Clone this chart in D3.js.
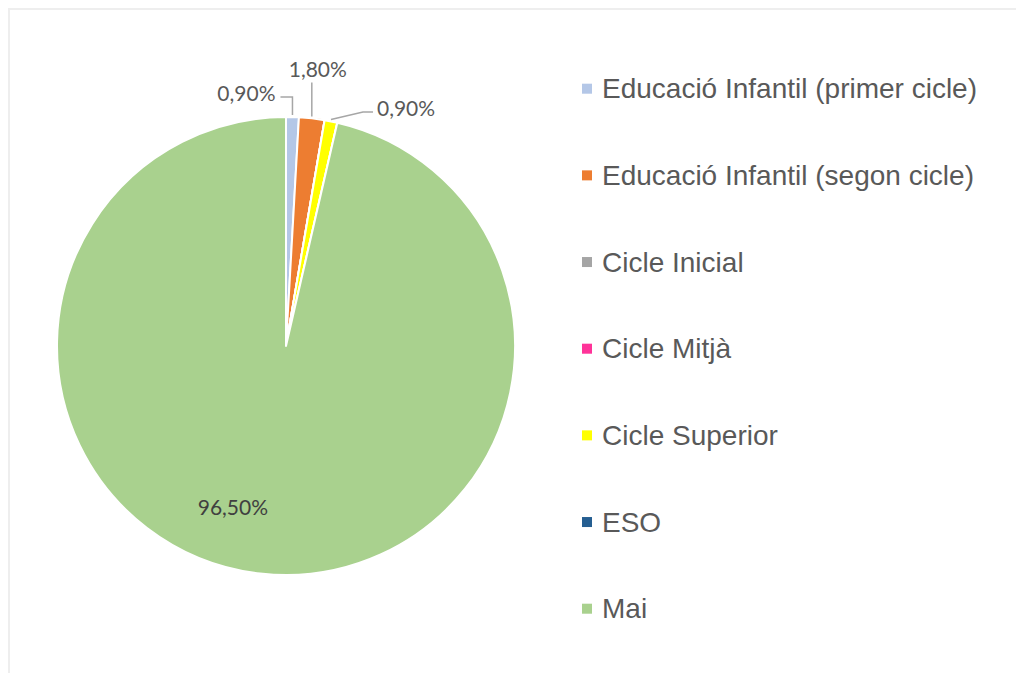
<!DOCTYPE html>
<html>
<head>
<meta charset="utf-8">
<script src="https://cdn.jsdelivr.net/npm/d3@7"></script>
<style>
  html, body { margin: 0; padding: 0; background: #fff; }
  svg { display: block; }
</style>
</head>
<body>
<div id="chart"></div>
<script>
// dades del gràfic
const categories = [
  "Educació Infantil (primer cicle)",
  "Educació Infantil (segon cicle)",
  "Cicle Inicial",
  "Cicle Mitjà",
  "Cicle Superior",
  "ESO",
  "Mai"
];
const values = [0.9, 1.8, 0, 0, 0.9, 0, 96.5];
const labelTexts = ["0,90%", "1,80%", "", "", "0,90%", "", "96,50%"];
const colors = ["#B4C7E7", "#ED7D31", "#A5A5A5", "#FF3399", "#FFFF00", "#255E91", "#A9D18E"];

(() => {
  const W = 1016, H = 673;
  const cx = 286, cy = 346, R = 229;
  const legendFont = "'Liberation Sans', Arimo, Arial, Helvetica, sans-serif";
  const labelFont = "Lato, 'Open Sans', sans-serif";

  const svg = d3.select("#chart").append("svg")
    .attr("width", W).attr("height", H);

  // vora del gràfic
  svg.append("rect")
    .attr("x", 9).attr("y", 9)
    .attr("width", W + 50).attr("height", H + 50)
    .attr("fill", "#fff")
    .attr("stroke", "#eeeeee")
    .attr("stroke-width", 2);

  const data = categories.map((c, i) => ({ cat: c, v: values[i], lbl: labelTexts[i], color: colors[i] }));

  const pie = d3.pie().sort(null).value(d => d.v);
  const arcs = pie(data);
  const arc = d3.arc().innerRadius(0).outerRadius(R);

  const g = svg.append("g").attr("transform", `translate(${cx},${cy})`);

  g.selectAll("path.slice")
    .data(arcs)
    .join("path")
    .attr("class", "slice")
    .attr("d", arc)
    .attr("fill", d => d.data.color)
    .attr("stroke", "#fff")
    .attr("stroke-width", 2)
    .attr("stroke-linejoin", "round");

  // posicions de les etiquetes (desplaçaments respecte al punt exterior del sector)
  const layout = {
    0: { elbow: [0, -20], end: [-12, -20], text: [-17, -25], anchor: "end" },
    1: { elbow: [0, -36], end: [0, -36], text: [6, -50], anchor: "middle" },
    4: { elbow: [32, -9.5], end: [42, -9.5], text: [46, -14], anchor: "start" }
  };

  const outer = d => {
    const a = (d.startAngle + d.endAngle) / 2;
    return [R * Math.sin(a), -R * Math.cos(a)];
  };

  arcs.forEach((d, i) => {
    if (!d.data.lbl) return;
    const L = layout[i];
    if (L) {
      const [ax, ay] = outer(d);
      const pts = [[ax, ay - 2], [ax + L.elbow[0], ay + L.elbow[1]], [ax + L.end[0], ay + L.end[1]]];
      g.append("polyline")
        .attr("points", pts.map(p => p.join(",")).join(" "))
        .attr("fill", "none")
        .attr("stroke", "#a6a6a6")
        .attr("stroke-width", 1.5);
      g.append("text")
        .attr("x", ax + L.text[0])
        .attr("y", ay + L.text[1])
        .attr("text-anchor", L.anchor)
        .attr("dominant-baseline", "central")
        .attr("font-family", labelFont)
        .attr("font-size", 21)
        .attr("fill", "#595959")
        .text(d.data.lbl);
    } else {
      // etiqueta interior del sector gran
      const [px, py] = d3.arc().innerRadius(0).outerRadius(R * 1.48).centroid(d);
      g.append("text")
        .attr("x", px - 34)
        .attr("y", py - 8)
        .attr("text-anchor", "middle")
        .attr("dominant-baseline", "central")
        .attr("font-family", labelFont)
        .attr("font-size", 21)
        .attr("fill", "#404040")
        .text(d.data.lbl);
    }
  });

  // llegenda
  const legY = d3.scalePoint().domain(categories).range([88.7, 608.7]);
  const leg = svg.append("g");
  const row = leg.selectAll("g")
    .data(data)
    .join("g")
    .attr("transform", d => `translate(582,${legY(d.cat)})`);
  row.append("rect")
    .attr("x", 0).attr("y", -5)
    .attr("width", 10).attr("height", 10)
    .attr("fill", d => d.color);
  row.append("text")
    .attr("x", 20)
    .attr("y", 0)
    .attr("dominant-baseline", "central")
    .attr("font-family", legendFont)
    .attr("font-size", 28)
    .attr("fill", "#595959")
    .text(d => d.cat);
})();
</script>
</body>
</html>
